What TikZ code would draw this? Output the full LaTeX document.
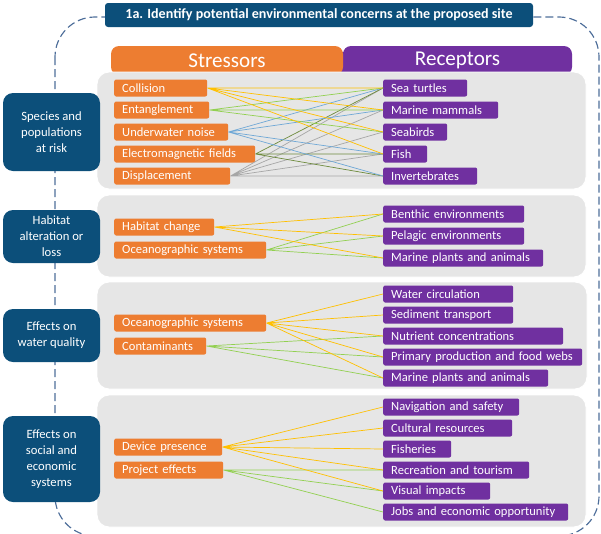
\documentclass[tikz,border=0pt]{standalone}
\usepackage{fontspec}
\setmainfont{Carlito}
\newlength\px
\setlength\px{0.03cm}
\definecolor{navy}{HTML}{0C4F7A}
\definecolor{stressorange}{HTML}{ED7D31}
\definecolor{receptpurple}{HTML}{7030A0}
\definecolor{panelgray}{HTML}{E6E6E6}
\definecolor{dashblue}{HTML}{4E6E9A}
\definecolor{lnyellow}{HTML}{FFC000}
\definecolor{lngreen}{HTML}{92D050}
\definecolor{lnblue}{HTML}{6FA8D6}
\definecolor{lnolive}{HTML}{6E8B3D}
\definecolor{lngray}{HTML}{A6A6A6}
\tikzset{
  stressor/.style={fill=stressorange, text=white, anchor=west, rounded corners=2\px,
    minimum height=17\px, inner xsep=8\px, inner ysep=0pt, text width=#1\px,
    font=\fontsize{10.7}{12}\selectfont},
  receptor/.style={stressor=#1, fill=receptpurple},
  topic/.style={fill=navy, text=white, rounded corners=10\px, minimum width=97\px,
    align=center, inner sep=0pt, font=\fontsize{10.8}{13.6}\selectfont},
  headtab/.style={text=white, minimum width=#1\px, minimum height=29\px,
    rounded corners=8\px, inner sep=0pt, font=\fontsize{18}{20}\selectfont},
  panel/.style={fill=panelgray, draw=white, line width=0.8pt, rounded corners=12\px},
  link/.style={line width=0.6pt}
}
\begin{document}
\begin{tikzpicture}[x=0.03cm, y=-0.03cm]
\useasboundingbox (0,0) rectangle (601,533);
\clip (0,0) rectangle (601,533);

\draw[dashblue, line width=1pt, dash pattern=on 8\px off 4\px, rounded corners=40\px] (55,17) rectangle (599,536);
\node[fill=navy, text=white, rounded corners=3\px, minimum width=428\px, minimum height=24\px,
  inner sep=0pt, font=\bfseries\fontsize{12}{14}\selectfont] (title) at (319,15)
  {1a. Identify potential environmental concerns at the proposed site};

\fill[receptpurple] (330,52) rectangle (345,75);
\node[headtab=229, fill=receptpurple] (receptors) at (457.5,60.5) {Receptors};
\node[headtab=232, fill=stressorange] (stressors) at (227,60.5) {Stressors};

\draw[panel] (97,72) rectangle (586,189);
\draw[panel] (97,195) rectangle (586,277);
\draw[panel] (97,282) rectangle (587,389);
\draw[panel] (97,395) rectangle (586,527);

\node[topic, minimum height=78\px] (species) at (51.5,132) {Species and\\populations\\at risk};
\node[topic, minimum height=53\px] (habitat) at (51.5,236.5) {Habitat\\alteration or\\loss};
\node[topic, minimum height=53\px] (water) at (51.5,335.5) {Effects on\\water quality};
\node[topic, minimum height=86\px] (social) at (51.5,459) {Effects on\\social and\\economic\\systems};

\node[stressor=77] (collision) at (114,88) {Collision};
\node[stressor=79] (entangle) at (114,110) {Entanglement};
\node[stressor=98] (noise) at (114,132) {Underwater noise};
\node[stressor=125] (emf) at (114,154) {Electromagnetic fields};
\node[stressor=100] (displace) at (114,176) {Displacement};

\node[receptor=68] (turtles) at (383,88) {Sea turtles};
\node[receptor=99] (mammals) at (383,110) {Marine mammals};
\node[receptor=48] (seabirds) at (383,132) {Seabirds};
\node[receptor=28] (fish) at (383,154) {Fish};
\node[receptor=78] (inverts) at (383,176) {Invertebrates};

\node[stressor=84] (habchange) at (114,227) {Habitat change};
\node[stressor=136] (oceanA) at (114,250) {Oceanographic systems};

\node[receptor=125] (benthic) at (383,214) {Benthic environments};
\node[receptor=125] (pelagic) at (383,236) {Pelagic environments};
\node[receptor=144] (plantsA) at (383,258) {Marine plants and animals};

\node[stressor=136] (oceanB) at (114,323) {Oceanographic systems};
\node[stressor=76] (contam) at (114,346) {Contaminants};

\node[receptor=114] (circulation) at (383,294) {Water circulation};
\node[receptor=114] (sediment) at (383,315) {Sediment transport};
\node[receptor=164] (nutrient) at (383,336) {Nutrient concentrations};
\node[receptor=183] (primary) at (383,357) {Primary production and food webs};
\node[receptor=149] (plantsB) at (383,378) {Marine plants and animals};

\node[stressor=92] (device) at (114,447) {Device presence};
\node[stressor=93] (project) at (114,470) {Project effects};

\node[receptor=120] (navigation) at (383,407) {Navigation and safety};
\node[receptor=113] (cultural) at (383,428) {Cultural resources};
\node[receptor=52] (fisheries) at (383,449) {Fisheries};
\node[receptor=130] (recreation) at (383,470) {Recreation and tourism};
\node[receptor=91] (visual) at (383,491) {Visual impacts};
\node[receptor=169] (jobs) at (383,512) {Jobs and economic opportunity};

\draw[link, lngray] (displace.east) -- (turtles.west) (displace.east) -- (mammals.west)
  (displace.east) -- (seabirds.west) (displace.east) -- (fish.west) (displace.east) -- (inverts.west);
\draw[link, lnolive] (emf.east) -- (turtles.west) (emf.east) -- (fish.west) (emf.east) -- (inverts.west);
\draw[link, lnblue] (noise.east) -- (turtles.west) (noise.east) -- (mammals.west)
  (noise.east) -- (fish.west) (noise.east) -- (inverts.west);
\draw[link, lngreen] (entangle.east) -- (turtles.west) (entangle.east) -- (mammals.west) (entangle.east) -- (seabirds.west);
\draw[link, lnyellow] (collision.east) -- (turtles.west) (collision.east) -- (mammals.west)
  (collision.east) -- (seabirds.west) (collision.east) -- (fish.west);

\draw[link, lngreen] (oceanA.east) -- (benthic.west) (oceanA.east) -- (pelagic.west) (oceanA.east) -- (plantsA.west);
\draw[link, lnyellow] (habchange.east) -- (benthic.west) (habchange.east) -- (pelagic.west) (habchange.east) -- (plantsA.west);

\draw[link, lngreen] (contam.east) -- (nutrient.west) (contam.east) -- (primary.west) (contam.east) -- (plantsB.west);
\draw[link, lnyellow] (oceanB.east) -- (circulation.west) (oceanB.east) -- (sediment.west)
  (oceanB.east) -- (nutrient.west) (oceanB.east) -- (primary.west) (oceanB.east) -- (plantsB.west);

\draw[link, lngreen] (project.east) -- (recreation.west) (project.east) -- (visual.west) (project.east) -- (jobs.west);
\draw[link, lnyellow] (device.east) -- (navigation.west) (device.east) -- (cultural.west)
  (device.east) -- (fisheries.west) (device.east) -- (recreation.west) (device.east) -- (visual.west);
\end{tikzpicture}
\end{document}
